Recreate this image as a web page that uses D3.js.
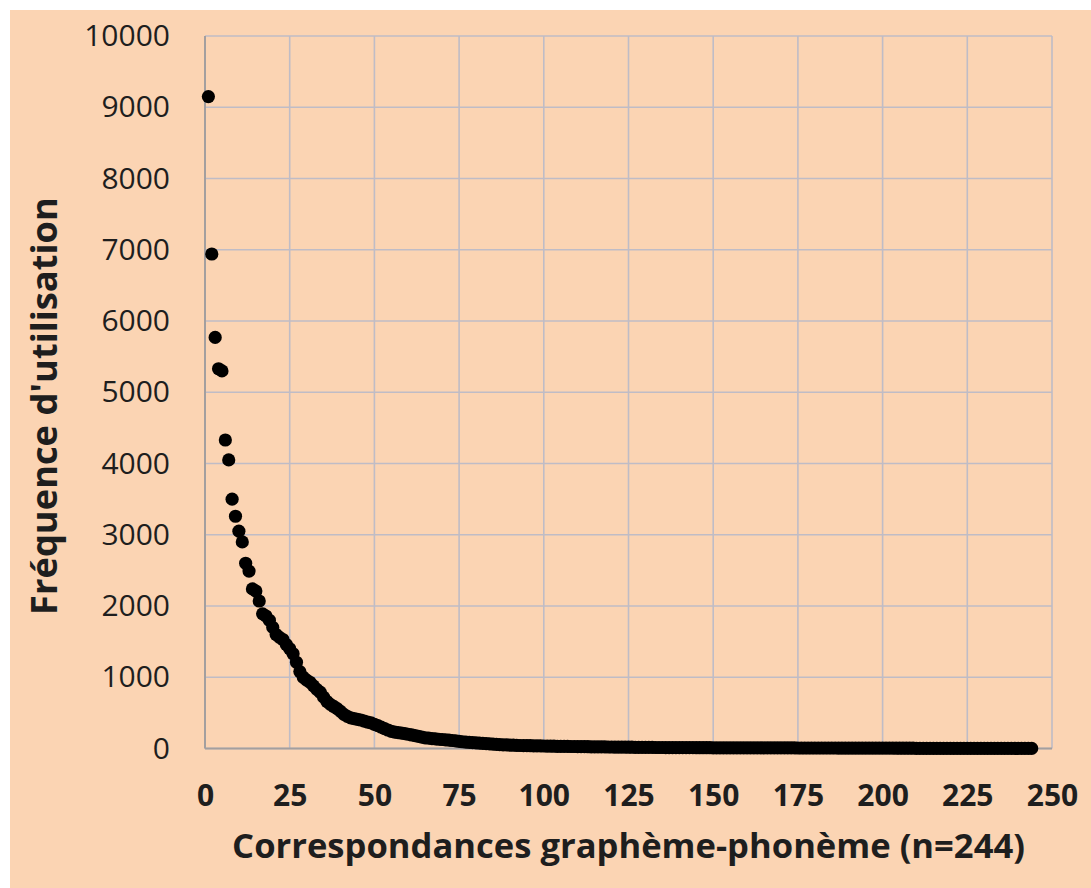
<!DOCTYPE html>
<html>
<head>
<meta charset="utf-8">
<script src="https://cdn.jsdelivr.net/npm/d3@7"></script>
<style>
  body { margin: 0; background: #fff; }
  svg { display: block; }
  text { font-family: "Open Sans", "DejaVu Sans", sans-serif; fill: #1e1e1e; }
</style>
</head>
<body>
<div id="chart"></div>
<script>
// fréquence d'utilisation, triée, une valeur par correspondance (rang 1..244)
var frequences = [
  9150, 6940, 5770, 5330, 5300, 4330, 4050, 3500, 3260, 3050,
  2900, 2600, 2490, 2240, 2210, 2070, 1890, 1860, 1800,
  1700, 1600, 1560, 1530, 1460, 1400, 1330, 1210, 1080, 1000, 960,
  930, 880, 830, 790, 720, 660, 620, 590, 560, 520, 480, 450, 430, 420, 410,
  400, 385, 370, 360, 340, 320, 300, 280, 260, 240, 230, 222, 215, 208, 200,
  190, 180, 170, 160, 150, 145, 140, 135, 130, 126, 122, 118, 112, 106, 100,
  95, 90, 86, 82, 78, 75, 72, 68, 65, 62, 58, 55, 52, 50, 48,
  46, 44, 42, 41, 40, 39, 38, 37, 36, 35, 34, 33, 32, 31, 30,
  30, 29, 28, 28, 27, 26, 26, 25, 24, 24, 23, 22, 22, 21, 21,
  20, 20, 19, 19, 18, 18, 17, 17, 16, 16, 15, 15, 14, 14, 14,
  13, 13, 13, 13, 12, 12, 12, 12, 12, 11, 11, 11, 11, 11, 10,
  10, 10, 10, 10, 10, 10, 9, 9, 9, 9, 9, 9, 9, 9, 8,
  8, 8, 8, 8, 8, 8, 8, 8, 8, 7, 7, 7, 7, 7, 7,
  7, 7, 7, 7, 7, 7, 6, 6, 6, 6, 6, 6, 6, 6, 6,
  6, 6, 6, 6, 6, 6, 5, 5, 4, 4, 4, 4, 4, 4, 3,
  3, 3, 3, 3, 3, 3, 3, 3, 3, 2, 2, 2, 2, 2, 2,
  2, 2, 2, 2, 2, 2, 2, 2, 2, 1, 1, 1, 1, 1, 1,
  1, 1, 1, 1
];
var xTicks = [0, 25, 50, 75, 100, 125, 150, 175, 200, 225, 250];
var yTicks = [0, 1000, 2000, 3000, 4000, 5000, 6000, 7000, 8000, 9000, 10000];
var xTitle = "Correspondances graphème-phonème (n=244)";
var yTitle = "Fréquence d'utilisation";

var W = 1091, H = 888;
var margin = { top: 36, right: 39, bottom: 139.5, left: 205 };
var width = W - margin.left - margin.right;
var height = H - margin.top - margin.bottom;

var svg = d3.select("#chart").append("svg")
  .attr("width", W)
  .attr("height", H);

// fond pêche, bord blanc en haut et à gauche
svg.append("rect")
  .attr("x", 10).attr("y", 10)
  .attr("width", W - 10).attr("height", H - 10)
  .attr("fill", "#fbd4b3");

var g = svg.append("g")
  .attr("transform", "translate(" + margin.left + "," + margin.top + ")");

var x = d3.scaleLinear().domain([0, 250]).range([0, width]);
var y = d3.scaleLinear().domain([0, 10000]).range([height, 0]);

// grille
g.selectAll(".hgrid").data(yTicks).enter().append("line")
  .attr("x1", 0).attr("x2", width)
  .attr("y1", function(d) { return y(d); })
  .attr("y2", function(d) { return y(d); })
  .attr("stroke", "#bfbcc6").attr("stroke-width", 1.6);

g.selectAll(".vgrid").data(xTicks).enter().append("line")
  .attr("x1", function(d) { return x(d); })
  .attr("x2", function(d) { return x(d); })
  .attr("y1", 0).attr("y2", height)
  .attr("stroke", "#bfbcc6").attr("stroke-width", 1.6);

// axes
g.append("line").attr("x1", 0).attr("x2", 0).attr("y1", 0).attr("y2", height)
  .attr("stroke", "#a39f9f").attr("stroke-width", 2);
g.append("line").attr("x1", 0).attr("x2", width).attr("y1", height).attr("y2", height)
  .attr("stroke", "#a39f9f").attr("stroke-width", 2);

var yAxis = d3.axisLeft(y).tickValues(yTicks).tickSize(0).tickPadding(35).tickFormat(d3.format("d"));
var yg = g.append("g").call(yAxis);
yg.select(".domain").remove();
yg.selectAll("text")
  .style("font-size", "30px")
  .style("font-family", "'Open Sans', sans-serif")
  .attr("fill", "#1e1e1e");

var xAxis = d3.axisBottom(x).tickValues(xTicks).tickSize(0).tickPadding(36).tickFormat(d3.format("d"));
var xg = g.append("g").attr("transform", "translate(0," + height + ")").call(xAxis);
xg.select(".domain").remove();
xg.selectAll("text")
  .style("font-size", "30px")
  .style("font-weight", "bold")
  .style("font-family", "'Open Sans', sans-serif")
  .attr("fill", "#1e1e1e");

// points
g.selectAll(".dot").data(frequences).enter().append("circle")
  .attr("cx", function(d, i) { return x(i + 1); })
  .attr("cy", function(d) { return y(d); })
  .attr("r", 6.6)
  .attr("fill", "#000");

// titres des axes, ajustés à la largeur voulue
function fit(sel, target) {
  var len = sel.node().getComputedTextLength();
  var fs = parseFloat(sel.style("font-size"));
  sel.style("font-size", (fs * target / len) + "px");
}

var xt = svg.append("text")
  .attr("x", 628.5).attr("y", 858)
  .attr("text-anchor", "middle")
  .style("font-size", "34px").style("font-weight", "bold")
  .text(xTitle);
fit(xt, 793);

var yt = svg.append("text")
  .attr("transform", "translate(57,406) rotate(-90)")
  .attr("text-anchor", "middle")
  .style("font-size", "31px").style("font-weight", "bold")
  .text(yTitle);
fit(yt, 418);
</script>
</body>
</html>
